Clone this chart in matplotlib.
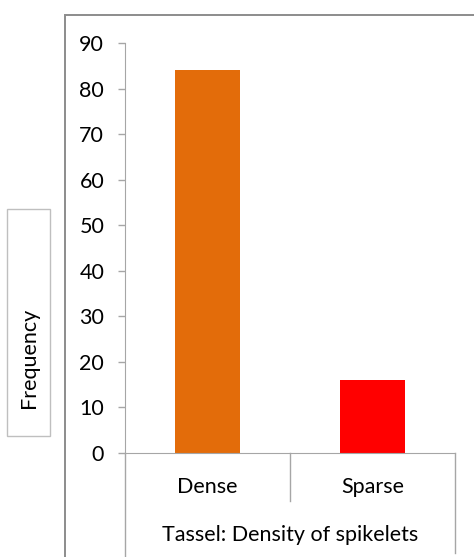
import matplotlib
matplotlib.use("Agg")
import matplotlib.pyplot as plt
from matplotlib.patches import Rectangle

categories = ["Dense", "Sparse"]
frequency = [84, 16]
bar_colors = ["#E36C0A", "#FF0000"]
y_ticks = [0, 10, 20, 30, 40, 50, 60, 70, 80, 90]
x_title = "Tassel: Density of spikelets"
y_title = "Frequency"

plt.rcParams["font.family"] = ["Lato", "DejaVu Sans"]
W, H = 474, 557
fig = plt.figure(figsize=(W / 100, H / 100), dpi=100)

grey = "#A6A6A6"
fs = 15.5

# outer chart-area border
fig.patches.append(Rectangle((65 / W, -0.05), 1.0, 1 - 15 / H + 0.05,
                             transform=fig.transFigure, fill=False,
                             edgecolor="#8C8C8C", linewidth=1.4))

ax = fig.add_axes([125 / W, (H - 453) / H, 330 / W, 410 / H])
x = list(range(len(categories)))
ax.bar(x, frequency, width=0.395, color=bar_colors)
ax.set_xlim(-0.5, 1.5)
ax.set_ylim(0, 90)
ax.set_yticks(y_ticks)
ax.tick_params(axis="y", direction="out", length=5, width=1, color=grey,
               pad=10, labelsize=fs)
ax.set_xticks([])
for s in ["top", "right"]:
    ax.spines[s].set_visible(False)
ax.spines["left"].set_color(grey)
ax.spines["bottom"].set_color(grey)
ax.spines["bottom"].set_bounds(-0.5, 1.5)

tr = ax.get_xaxis_transform()
# category dividers
ax.plot([-0.5, -0.5], [0, -0.26], transform=tr, color=grey, lw=1, clip_on=False)
ax.plot([0.5, 0.5], [0, -0.117], transform=tr, color=grey, lw=1, clip_on=False)
ax.plot([1.5, 1.5], [0, -0.245], transform=tr, color=grey, lw=1, clip_on=False)

for xi, name in zip(x, categories):
    ax.text(xi, -0.083, name, transform=tr, ha="center", va="center", fontsize=fs)
ax.text(0.5, -0.2, x_title, transform=tr, ha="center", va="center", fontsize=fs)

# boxed y-axis title
fig.patches.append(Rectangle((7 / W, 1 - 436 / H), 43 / W, 227 / H,
                             transform=fig.transFigure, fill=False,
                             edgecolor="#BFBFBF", linewidth=1))
fig.text(29 / W, 1 - 358 / H, y_title, rotation=90, ha="center", va="center",
         fontsize=fs)

fig.savefig("out.png", dpi=100)
